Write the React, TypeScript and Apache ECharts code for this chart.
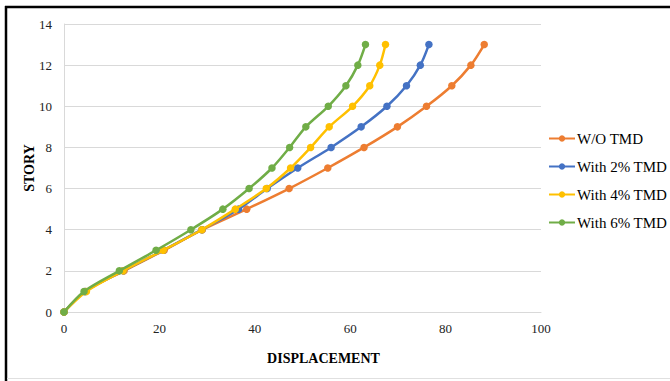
import React, { useEffect, useRef } from "react";
import * as echarts from "echarts";

const stories = [0, 1, 2, 3, 4, 5, 6, 7, 8, 9, 10, 11, 12, 13];
const seriesNames = ["W/O TMD", "With 2% TMD", "With 4% TMD", "With 6% TMD"];
const woTmd = [0, 4.4, 12.6, 21.0, 29.0, 38.3, 47.2, 55.3, 62.9, 69.9, 76.0, 81.3, 85.3, 88.1];
const tmd2 = [0, 4.5, 12.4, 20.8, 28.9, 36.6, 42.6, 49.0, 56.0, 62.3, 67.7, 71.8, 74.7, 76.5];
const tmd4 = [0, 4.7, 12.4, 20.8, 28.9, 35.9, 42.4, 47.5, 51.7, 55.6, 60.5, 64.1, 66.2, 67.4];
const tmd6 = [0, 4.2, 11.6, 19.3, 26.6, 33.3, 38.8, 43.6, 47.3, 50.7, 55.4, 59.1, 61.6, 63.2];
const colors = ["#ED7D31", "#4472C4", "#FFC000", "#70AD47"];
const xTicks = [0, 20, 40, 60, 80, 100];
const yTicks = [0, 2, 4, 6, 8, 10, 12, 14];

export default function App() {
  const ref = useRef<HTMLDivElement>(null);
  useEffect(() => {
    if (!ref.current) return;
    const chart = echarts.init(ref.current, undefined, { renderer: "svg" });
    const all = [woTmd, tmd2, tmd4, tmd6];
    const serif = "Liberation Serif";
    chart.setOption({
      animation: false,
      backgroundColor: "#ffffff",
      grid: { left: 64, right: 129, top: 24, bottom: 69, containLabel: false },
      xAxis: {
        type: "value",
        min: xTicks[0],
        max: xTicks[xTicks.length - 1],
        interval: xTicks[1] - xTicks[0],
        name: "DISPLACEMENT",
        nameLocation: "middle",
        nameGap: 39,
        nameMoveOverlap: false,
        nameTextStyle: {
          fontFamily: serif,
          fontWeight: "bold",
          fontSize: 14,
          color: "#000",
          padding: [0, 0, 0, 42],
        },
        axisLine: { show: true, lineStyle: { color: "#d9d9d9", width: 1 } },
        axisTick: { show: false },
        splitLine: { show: false },
        axisLabel: { fontFamily: serif, fontSize: 13, color: "#222", margin: 10 },
      },
      yAxis: {
        type: "value",
        min: yTicks[0],
        max: yTicks[yTicks.length - 1],
        interval: yTicks[1] - yTicks[0],
        name: "STORY",
        nameLocation: "middle",
        nameGap: 28,
        nameMoveOverlap: false,
        nameRotate: 90,
        nameTextStyle: { fontFamily: serif, fontWeight: "bold", fontSize: 14, color: "#000" },
        axisLine: { show: true, lineStyle: { color: "#d9d9d9", width: 1 } },
        axisTick: { show: false },
        splitLine: { show: true, lineStyle: { color: "#d9d9d9", width: 1 } },
        axisLabel: { fontFamily: serif, fontSize: 13, color: "#222", margin: 12 },
      },
      legend: {
        orient: "vertical",
        left: 543,
        top: 126,
        itemWidth: 26,
        itemHeight: 8,
        itemGap: 13,
        data: seriesNames,
        textStyle: { fontFamily: serif, fontSize: 15, color: "#000", padding: [0, 0, 0, -3] },
      },
      series: seriesNames.map((name, i) => ({
        name,
        type: "line",
        smooth: 0.3,
        symbol: "circle",
        symbolSize: 7.5,
        z: 2 + i,
        lineStyle: { color: colors[i], width: 2.5 },
        itemStyle: { color: colors[i] },
        data: stories.map((s, k) => [all[i][k], s]),
      })),
      graphic: [
        { type: "line", shape: { x1: 5, y1: 7, x2: 670, y2: 7 }, style: { stroke: "#000", lineWidth: 2.5 } },
        { type: "line", shape: { x1: 6, y1: 6, x2: 6, y2: 381 }, style: { stroke: "#000", lineWidth: 2.5 } },
        { type: "line", shape: { x1: 7, y1: 378.5, x2: 670, y2: 378.5 }, style: { stroke: "#e0e0e0", lineWidth: 1 } },
      ],
    });
    return () => chart.dispose();
  }, []);
  return (
    <div
      ref={ref}
      style={{ position: "absolute", left: 0, top: 0, width: 670, height: 381 }}
    />
  );
}
